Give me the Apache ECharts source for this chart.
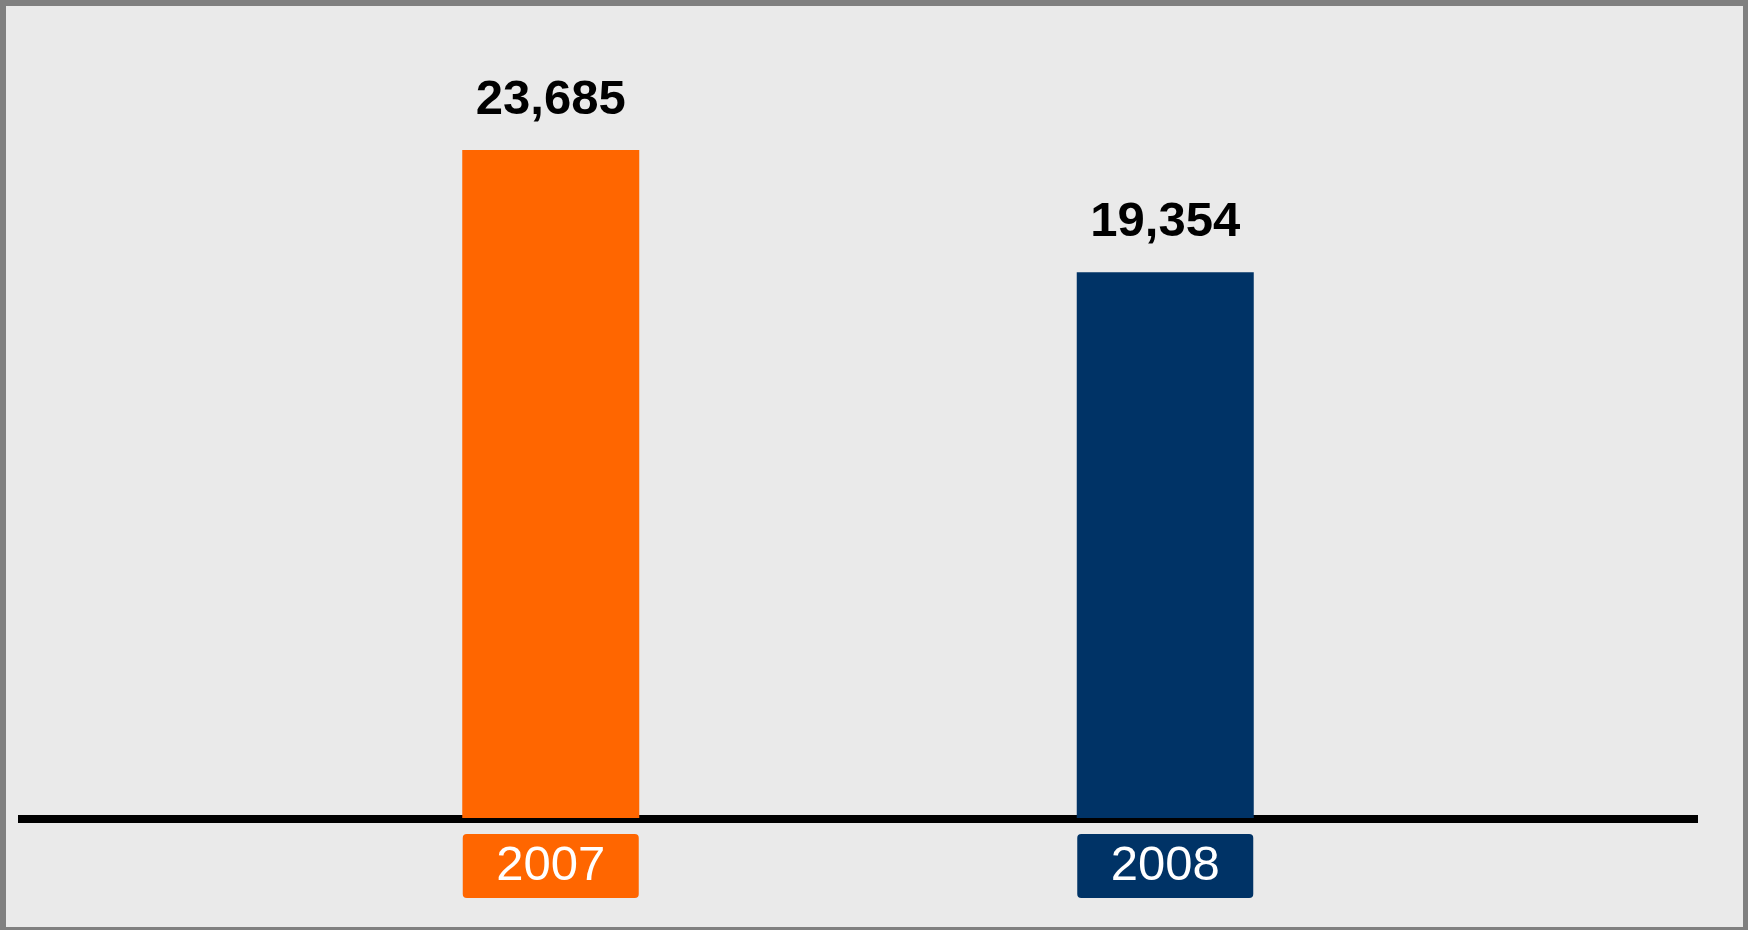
<!DOCTYPE html>
<html>
<head>
<meta charset="utf-8">
<script src="https://cdn.jsdelivr.net/npm/echarts@6/dist/echarts.min.js"></script>
<style>
html,body{margin:0;padding:0;background:#808080;}
#c{width:1737px;height:921px;border-left:6px solid #808080;border-top:6px solid #808080;border-right:5px solid #808080;border-bottom:3px solid #808080;background:#EAEAEA;}
</style>
</head>
<body>
<div id="c"></div>
<script>
const categories = ['2007', '2008'];
const values = [23685, 19354];
const barColors = ['#FF6600', '#003366'];

const chart = echarts.init(document.getElementById('c'));
const rich = {};
categories.forEach((c, i) => {
  rich['s' + i] = {
    backgroundColor: barColors[i],
    color: '#FFFFFF',
    fontFamily: 'Liberation Sans, Arial, sans-serif',
    fontSize: 49,
    lineHeight: 48,
    width: 176,
    height: 48,
    align: 'center',
    padding: [8, 0, 8, 0],
    borderRadius: 4
  };
});

chart.setOption({
  backgroundColor: '#EAEAEA',
  animation: false,
  grid: [
    { left: 237.5, right: 270.5, top: 107, bottom: 109 },
    { left: 12, right: 45, top: 107, bottom: 108 }
  ],
  xAxis: [
    {
      type: 'category', gridIndex: 0, data: categories,
      axisLine: { show: false }, axisTick: { show: false },
      axisLabel: {
        margin: 24,
        formatter: (v, i) => '{s' + i + '|' + v + '}',
        rich: rich
      }
    },
    {
      type: 'category', gridIndex: 1, data: [''],
      axisLine: { show: true, lineStyle: { color: '#000000', width: 8, cap: 'butt' } },
      axisTick: { show: false }, axisLabel: { show: false }, z: 0
    }
  ],
  yAxis: [
    { type: 'value', gridIndex: 0, min: 0, max: 25000, show: false, splitLine: { show: false } },
    { type: 'value', gridIndex: 1, min: 0, max: 25000, show: false, splitLine: { show: false } }
  ],
  series: [{
    type: 'bar',
    xAxisIndex: 0, yAxisIndex: 0,
    barWidth: 177,
    z: 5,
    data: values.map((v, i) => ({ value: v, itemStyle: { color: barColors[i] } })),
    label: {
      show: true,
      position: 'top',
      distance: 25,
      color: '#000000',
      fontFamily: 'Liberation Sans, Arial, sans-serif',
      fontWeight: 'bold',
      fontSize: 49,
      formatter: p => p.value.toLocaleString('en-US')
    }
  }]
});
</script>
</body>
</html>
